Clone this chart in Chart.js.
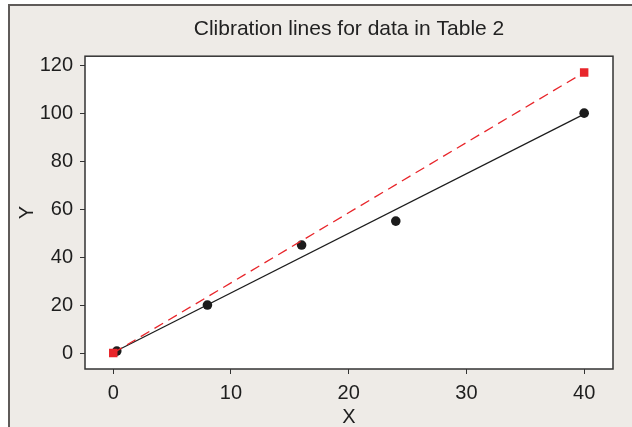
<!DOCTYPE html>
<html>
<head>
<meta charset="utf-8">
<script src="https://cdn.jsdelivr.net/npm/chart.js@4"></script>
<style>
  body { margin: 0; background: #fff; }
  canvas { display: block; }
</style>
</head>
<body>
<canvas id="calChart" width="632" height="427"></canvas>
<script>
// observed points (black) and fitted line
const obsX = [0.3, 8, 16, 24, 40];
const obsY = [0.8, 20, 45, 55, 100];
const fitX = [0, 40];
const fitY = [0.2, 99.6];
// reference (red) points and line
const refX = [0, 40];
const refY = [0, 117];

const xTicks = [0, 10, 20, 30, 40];
const yTicks = [0, 20, 40, 60, 80, 100, 120];

function pts(xs, ys) {
    return xs.map((x, i) => ({ x: x, y: ys[i] }));
}

const frame = {
    id: 'frame',
    beforeDraw(chart) {
        const ctx = chart.ctx;
        const w = chart.width, h = chart.height;
        const a = chart.chartArea;
        ctx.save();
        ctx.fillStyle = '#ffffff';
        ctx.fillRect(0, 0, w, h);
        ctx.fillStyle = '#eeebe7';
        ctx.fillRect(8, 4, w, h);
        ctx.strokeStyle = '#5f5b59';
        ctx.lineWidth = 2;
        ctx.beginPath();
        ctx.moveTo(9, h);
        ctx.lineTo(9, 5);
        ctx.lineTo(w, 5);
        ctx.stroke();
        ctx.fillStyle = '#ffffff';
        ctx.fillRect(a.left, a.top, a.right - a.left, a.bottom - a.top);
        ctx.strokeStyle = '#333333';
        ctx.lineWidth = 1.5;
        ctx.strokeRect(a.left, a.top, a.right - a.left, a.bottom - a.top);
        ctx.restore();
    }
};

const font = { family: '"Liberation Sans", Arial, sans-serif', size: 20 };

new Chart(document.getElementById('calChart').getContext('2d'), {
    type: 'scatter',
    data: {
        datasets: [
            {
                label: 'Reference line',
                data: pts(refX, refY),
                showLine: true,
                borderColor: '#e8262b',
                borderWidth: 1.3,
                borderDash: [10, 6],
                pointRadius: 0,
                order: 2
            },
            {
                label: 'Reference',
                data: pts(refX, refY),
                pointStyle: 'rect',
                pointRadius: 6,
                backgroundColor: '#e8262b',
                borderColor: '#e8262b',
                borderWidth: 0,
                order: 1
            },
            {
                label: 'Fit',
                data: pts(fitX, fitY),
                showLine: true,
                borderColor: '#1c1c1c',
                borderWidth: 1.2,
                pointRadius: 0,
                order: 4
            },
            {
                label: 'Observed',
                data: pts(obsX, obsY),
                pointRadius: 4.8,
                backgroundColor: '#1c1c1c',
                borderColor: '#1c1c1c',
                borderWidth: 0,
                order: 3
            }
        ]
    },
    options: {
        responsive: false,
        animation: false,
        devicePixelRatio: 1,
        layout: { padding: { top: 0, right: 19, bottom: 0, left: 0 } },
        plugins: {
            legend: { display: false },
            tooltip: { enabled: false },
            title: {
                display: true,
                text: 'Clibration lines for data in Table 2',
                fullSize: false,
                color: '#222',
                font: { family: font.family, size: 21, weight: 'normal', lineHeight: 1.2 },
                padding: { top: 17, bottom: 14 }
            }
        },
        scales: {
            x: {
                type: 'linear',
                min: -2.4,
                max: 42.45,
                afterBuildTicks: (s) => { s.ticks = xTicks.map(v => ({ value: v })); },
                afterFit: (s) => { s.height = 58; },
                grid: { drawOnChartArea: false, tickLength: 5, color: '#333', lineWidth: 1 },
                border: { display: false },
                ticks: { color: '#1e1e1e', font: font, padding: 7, maxRotation: 0 },
                title: {
                    display: true,
                    text: 'X',
                    color: '#1e1e1e',
                    font: { family: font.family, size: 20, lineHeight: 1 },
                    padding: { top: 0, bottom: 0 }
                }
            },
            y: {
                type: 'linear',
                min: -6.67,
                max: 123.75,
                afterBuildTicks: (s) => { s.ticks = yTicks.map(v => ({ value: v })); },
                afterFit: (s) => { s.width = 85; },
                grid: { drawOnChartArea: false, tickLength: 5, color: '#333', lineWidth: 1 },
                border: { display: false },
                ticks: { color: '#1e1e1e', font: font, padding: 7 },
                title: {
                    display: true,
                    text: 'Y',
                    color: '#1e1e1e',
                    font: { family: font.family, size: 20, lineHeight: 1 },
                    padding: { top: 17, bottom: 0 }
                }
            }
        }
    },
    plugins: [frame]
});
</script>
</body>
</html>
